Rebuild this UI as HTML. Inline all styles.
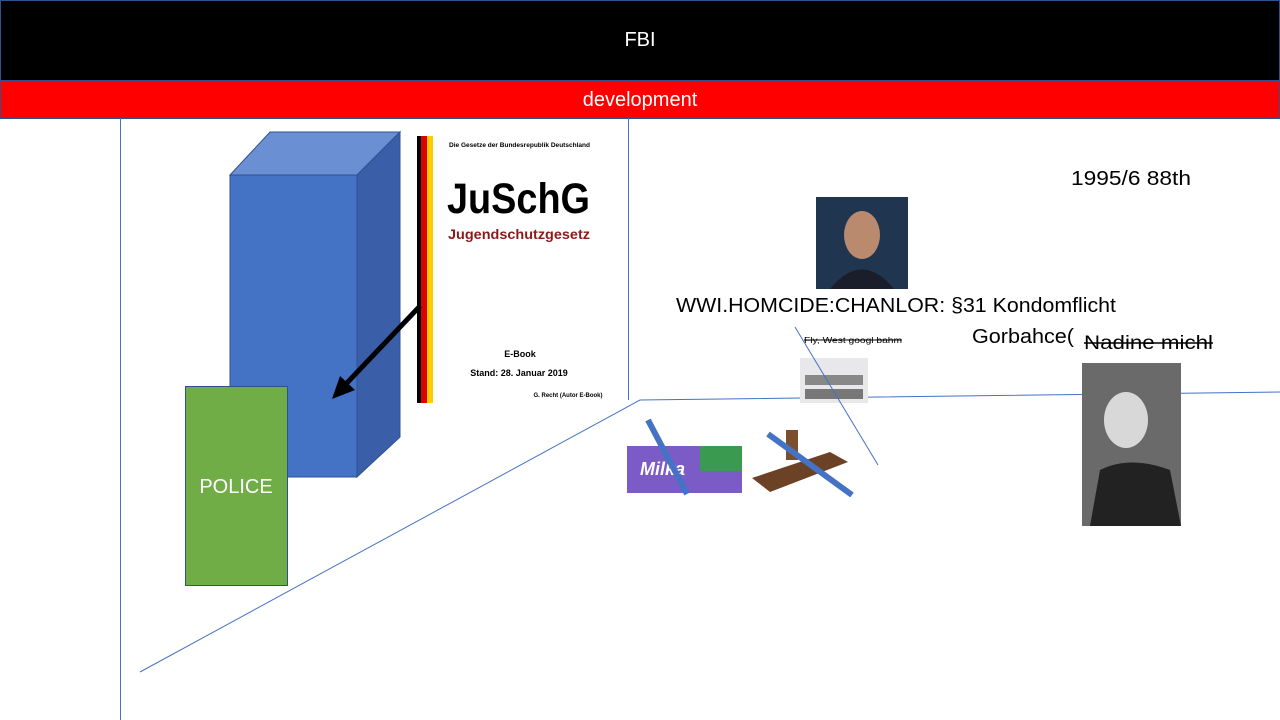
<!DOCTYPE html>
<html><head><meta charset="utf-8"><style>
body{margin:0;width:1280px;height:720px;overflow:hidden;background:#fff;font-family:"Liberation Sans",sans-serif;position:relative}
.a{position:absolute}
</style></head><body>
<div class="a" style="left:0;top:0;width:1278px;height:79px;background:#000;border:1px solid #2f528f;color:#fff;font-size:20px;text-align:center;line-height:79px">FBI</div>
<div class="a" style="left:0;top:81px;width:1278px;height:36px;background:#f00;border:1px solid #2f528f;color:#fff;font-size:20px;text-align:center;line-height:36px">development</div>
<svg class="a" style="left:0;top:0" width="1280" height="720">
<line x1="120.5" y1="118" x2="120.5" y2="720" stroke="#4472c4"/>
<line x1="628.5" y1="118" x2="628.5" y2="400" stroke="#4472c4"/>
<polyline points="140,672 640,400 1280,392" fill="none" stroke="#4472c4"/>
<polygon points="230,175 270,132 400,132 357,175" fill="#6a8fd2" stroke="#2f528f"/>
<polygon points="357,175 400,132 400,437 357,477" fill="#3a5fa8" stroke="#2f528f"/>
<rect x="230" y="175" width="127" height="302" fill="#4472c4" stroke="#2f528f"/>
<rect x="185.5" y="386.5" width="102" height="199" fill="#70ad47" stroke="#2f528f"/>
<text x="236" y="493" fill="#fff" font-size="20" text-anchor="middle">POLICE</text>
<rect x="417" y="136" width="4" height="267" fill="#000"/>
<rect x="421" y="136" width="6" height="267" fill="#d00"/>
<rect x="427" y="136" width="6" height="267" fill="#fc0"/>
<line x1="420" y1="306" x2="345" y2="385" stroke="#000" stroke-width="5"/>
<polygon points="332,399 340,376 355,390" fill="#000"/>
<text x="449" y="147" font-size="6.5" font-weight="bold" textLength="141" lengthAdjust="spacingAndGlyphs">Die Gesetze der Bundesrepublik Deutschland</text>
<text x="447" y="213" font-size="43" font-weight="bold" textLength="143" lengthAdjust="spacingAndGlyphs">JuSchG</text>
<text x="448" y="239" font-size="14" font-weight="bold" fill="#8b1a1a" textLength="142" lengthAdjust="spacingAndGlyphs">Jugendschutzgesetz</text>
<text x="520" y="357" font-size="9" font-weight="bold" text-anchor="middle">E-Book</text>
<text x="519" y="376" font-size="9" font-weight="bold" text-anchor="middle">Stand: 28. Januar 2019</text>
<text x="568" y="397" font-size="6" font-weight="bold" text-anchor="middle">G. Recht (Autor E-Book)</text>
<rect x="816" y="197" width="92" height="92" fill="#1f3550"/>
<ellipse cx="862" cy="235" rx="18" ry="24" fill="#b98a6e"/>
<path d="M830 289 Q862 250 894 289Z" fill="#1a1e2a"/>
<text x="676" y="312" font-size="20" textLength="440" lengthAdjust="spacingAndGlyphs">WWI.HOMCIDE:CHANLOR: §31 Kondomflicht</text>
<text x="972" y="343" font-size="20" textLength="102" lengthAdjust="spacingAndGlyphs">Gorbahce(</text>
<text x="1084" y="349" font-size="19" textLength="129" lengthAdjust="spacingAndGlyphs">Nadine michl</text>
<line x1="1084" y1="343" x2="1213" y2="343" stroke="#000" stroke-width="1.5"/>
<text x="804" y="343" font-size="8" textLength="98" lengthAdjust="spacingAndGlyphs">Fly, West googl bahm</text>
<line x1="804" y1="340" x2="902" y2="340" stroke="#000"/>
<rect x="800" y="358" width="68" height="45" fill="#e8e8ea"/>
<rect x="805" y="375" width="58" height="10" fill="#888"/>
<rect x="805" y="389" width="58" height="10" fill="#777"/>
<line x1="795" y1="327" x2="878" y2="465" stroke="#4472c4"/>
<text x="1071" y="185" font-size="20" textLength="120" lengthAdjust="spacingAndGlyphs">1995/6 88th</text>
<rect x="627" y="446" width="115" height="47" fill="#7b5cc7"/>
<rect x="700" y="446" width="42" height="25" fill="#3a9a50"/>
<text x="640" y="475" font-size="18" font-style="italic" font-weight="bold" fill="#fff">Milka</text>
<line x1="648" y1="420" x2="687" y2="494" stroke="#4472c4" stroke-width="6"/>
<polygon points="752,478 830,452 848,462 770,492" fill="#6b4226"/>
<rect x="786" y="430" width="12" height="30" fill="#7b4e2e"/>
<line x1="768" y1="434" x2="852" y2="495" stroke="#4472c4" stroke-width="6"/>
<rect x="1082" y="363" width="99" height="163" fill="#6a6a6a"/>
<ellipse cx="1126" cy="420" rx="22" ry="28" fill="#d8d8d8"/>
<path d="M1090 526 L1100 470 Q1130 455 1170 470 L1181 526Z" fill="#222"/>
</svg>
</body></html>
